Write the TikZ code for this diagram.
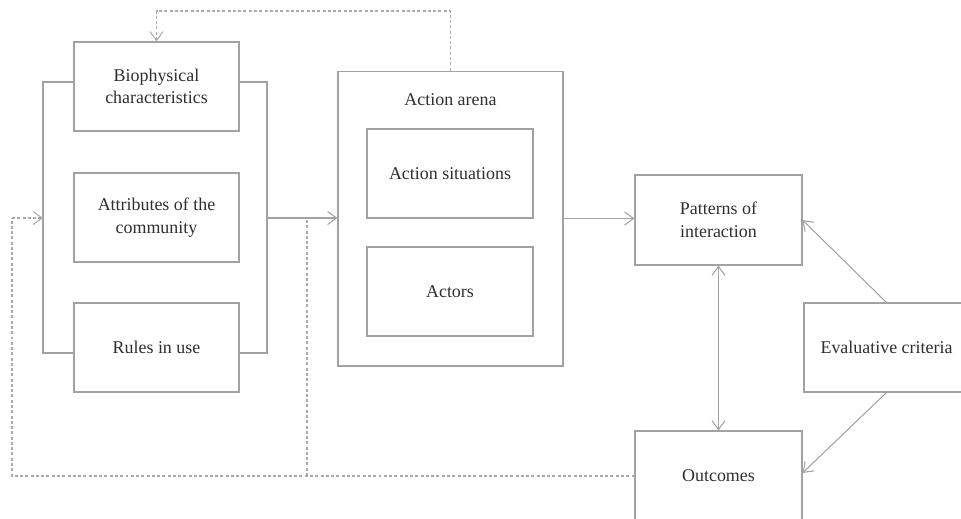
\documentclass[tikz,border=0pt]{standalone}
\usepackage{fontspec}
\setmainfont{Liberation Serif}
\usepackage{tikz}
\usetikzlibrary{arrows.meta}

\definecolor{linegray}{HTML}{A2A2A2}
\definecolor{dashgray}{HTML}{ABABAB}
\definecolor{textgray}{HTML}{2E2E2E}

\begin{document}
\begin{tikzpicture}[
  x=0.02cm, y=-0.02cm,
  box/.style={rectangle, draw=linegray, line width=0.6pt, minimum width=3.3cm,
              minimum height=1.78cm, align=center, text=textgray,
              font=\fontsize{10.2}{12.8}\selectfont},
  arrow/.style={-{Straight Barb[length=1.8mm, width=2.6mm]}, draw=linegray, line width=0.6pt},
  dbl/.style={{Straight Barb[length=1.8mm, width=2.6mm]}-{Straight Barb[length=1.8mm, width=2.6mm]},
              draw=linegray, line width=0.6pt},
  brace/.style={draw=linegray, line width=0.6pt},
  fback/.style={draw=dashgray, line width=0.6pt, dash pattern=on 1.7pt off 1.3pt}
]
\useasboundingbox (0,0) rectangle (961,518);

% Left column — context
\node[box] at (156.5,86.5)  (bio)   {Biophysical\\characteristics};
\node[box] at (156.5,217.5) (attr)  {Attributes of the\\community};
\node[box] at (156.5,347.5) (rules) {Rules in use};

% Middle — action arena
\node[box, minimum width=4.5cm, minimum height=5.9cm] at (450.5,218.5) (arena) {};
\node[text=textgray, font=\fontsize{10.2}{12.8}\selectfont] at (450.5,100) (arenalbl) {Action arena};
\node[box, minimum width=3.32cm] at (450,173.5) (sit)    {Action situations};
\node[box, minimum width=3.32cm] at (450,291.5) (actors) {Actors};

% Right — results
\node[box, minimum width=3.34cm, minimum height=1.8cm] at (718.5,220) (pat)  {Patterns of\\interaction};
\node[box, minimum width=3.34cm, minimum height=1.8cm] at (718.5,476) (out)  {Outcomes};
\node[box] at (886.5,347.5) (eval) {Evaluative criteria};

% Bracket round the left column
\coordinate (ltop) at (43,82);
\coordinate (lbot) at (43,353);
\coordinate (rtop) at (267,82);
\coordinate (rbot) at (267,353);
\coordinate (join) at (267,218);
\draw[brace] (bio.west |- ltop) -- (ltop) -- (lbot) -- (rules.west |- lbot);
\draw[brace] (bio.east |- rtop) -- (rtop) -- (rbot) -- (rules.east |- rbot);

% Arrows
\draw[arrow] (join) -- (arena.west |- join);
\draw[arrow] (arena.east) -- (arena.east -| pat.west);
\draw[dbl]   (pat.south) -- (out.north);
\draw[arrow] (eval.north) -- (pat.east);
\draw[arrow] (eval.south) -- ([yshift=0.06cm]out.east);

% Feedback (dashed)
\coordinate (fbl)  at (12,476);
\coordinate (fbm)  at (307,476);
\coordinate (fbin) at (43,218);
\coordinate (fbtop) at (450.5,11);
\draw[fback] (out.west) -- (fbl) -- (fbl |- fbin);
\draw[fback, -{Straight Barb[length=1.8mm, width=2.6mm]}] (fbl |- fbin) -- (fbin);
\draw[fback] (fbm) -- (fbm |- join);
\draw[fback] (arena.north) -- (fbtop) -| ([yshift=0.3cm]bio.north);
\draw[fback, -{Straight Barb[length=1.8mm, width=2.6mm]}] ([yshift=0.3cm]bio.north) -- (bio.north);
\end{tikzpicture}
\end{document}
